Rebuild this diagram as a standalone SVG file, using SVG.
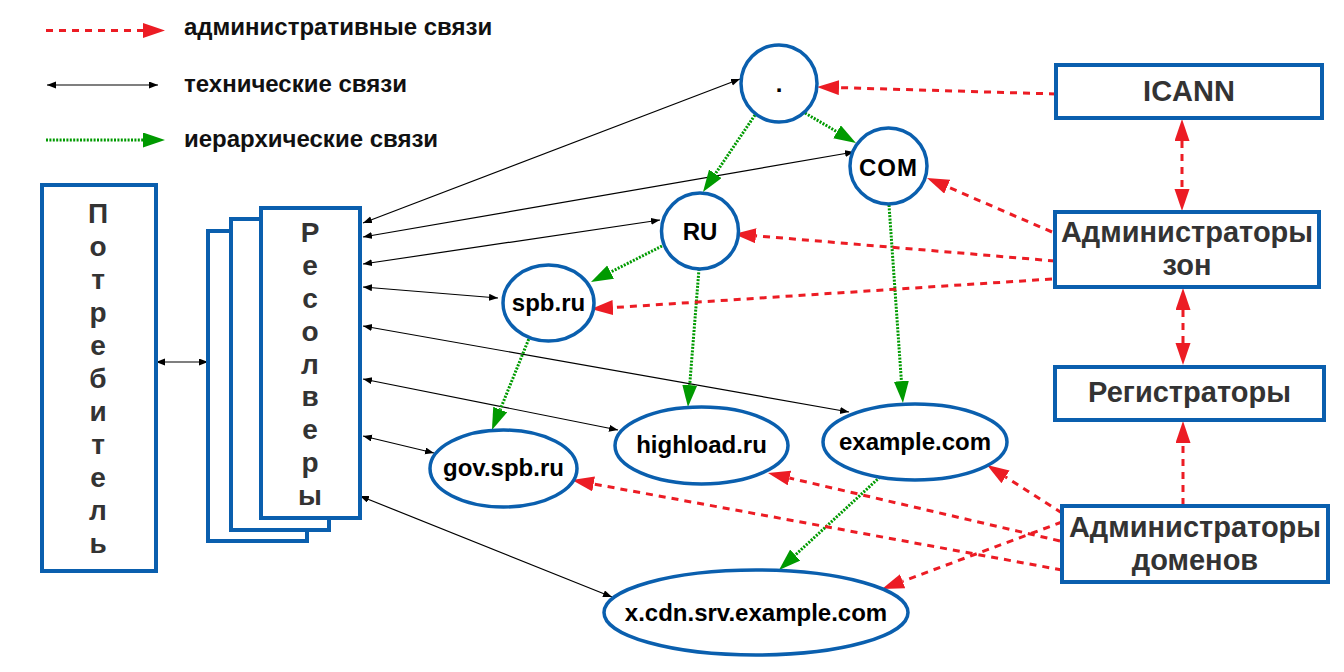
<svg xmlns="http://www.w3.org/2000/svg" width="1344" height="672" viewBox="0 0 1344 672">
<defs>
<style>
.box{fill:#fff;stroke:#0a5fae;stroke-width:4}
.node{fill:#fff;stroke:#0a5fae;stroke-width:3.5}
.bt{font-family:"Liberation Sans",Arial,sans-serif;font-weight:bold;font-size:29px;fill:#333;text-anchor:middle}
.lb{font-family:"Liberation Sans",Arial,sans-serif;font-weight:bold;font-size:28px;fill:#333;text-anchor:middle}
.nt{font-family:"Liberation Sans",Arial,sans-serif;font-weight:bold;font-size:24px;fill:#000;text-anchor:middle}
.lt{font-family:"Liberation Sans",Arial,sans-serif;font-weight:bold;font-size:24px;fill:#111}
.adm{fill:none;stroke:#ec1c24;stroke-width:3;stroke-dasharray:7 6}
.hier{fill:none;stroke:#009a00;stroke-width:3;stroke-dasharray:2 1.4}
.tech{fill:none;stroke:#000;stroke-width:1.2}
</style>
<marker id="ra" markerUnits="userSpaceOnUse" markerWidth="22" markerHeight="16" refX="0" refY="7.5" orient="auto-start-reverse"><path d="M0,0 L22,7.5 L0,15 z" fill="#ec1c24"/></marker>
<marker id="ga" markerUnits="userSpaceOnUse" markerWidth="22" markerHeight="16" refX="0" refY="7.5" orient="auto-start-reverse"><path d="M0,0 L22,7.5 L0,15 z" fill="#009a00"/></marker>
<marker id="ba" markerUnits="userSpaceOnUse" markerWidth="10" markerHeight="8" refX="9" refY="3.5" orient="auto-start-reverse"><path d="M0,0 L9,3.5 L0,7 z" fill="#000"/></marker>
</defs>
<rect width="1344" height="672" fill="#fff"/>

<g id="legend">
<line class="adm" x1="46" y1="30.5" x2="143" y2="30.5" marker-end="url(#ra)"/>
<text class="lt" x="184" y="35">административные связи</text>
<line class="tech" x1="47" y1="85" x2="158" y2="85" marker-start="url(#ba)" marker-end="url(#ba)"/>
<text class="lt" x="184" y="92">технические связи</text>
<line class="hier" x1="46" y1="140" x2="143" y2="140" marker-end="url(#ga)"/>
<text class="lt" x="184" y="147">иерархические связи</text>
</g>

<g id="connectors">
<line class="tech" x1="156" y1="362" x2="208" y2="362" marker-start="url(#ba)" marker-end="url(#ba)"/>
<line class="tech" x1="363" y1="223" x2="740" y2="79" marker-start="url(#ba)" marker-end="url(#ba)"/>
<line class="tech" x1="363" y1="237" x2="854" y2="152" marker-start="url(#ba)" marker-end="url(#ba)"/>
<line class="tech" x1="363" y1="264" x2="660" y2="220" marker-start="url(#ba)" marker-end="url(#ba)"/>
<line class="tech" x1="363" y1="287" x2="498" y2="298" marker-start="url(#ba)" marker-end="url(#ba)"/>
<line class="tech" x1="363" y1="326" x2="849" y2="412" marker-start="url(#ba)" marker-end="url(#ba)"/>
<line class="tech" x1="363" y1="379" x2="618" y2="430" marker-start="url(#ba)" marker-end="url(#ba)"/>
<line class="tech" x1="363" y1="436" x2="434" y2="453" marker-start="url(#ba)" marker-end="url(#ba)"/>
<line class="tech" x1="360" y1="496" x2="612" y2="597" marker-start="url(#ba)" marker-end="url(#ba)"/>

<line class="hier" x1="755" y1="115" x2="715.3" y2="173.8" marker-end="url(#ga)"/>
<line class="hier" x1="805" y1="113" x2="837" y2="131.8" marker-end="url(#ga)"/>
<line class="hier" x1="662" y1="246" x2="610.6" y2="272.1" marker-end="url(#ga)"/>
<line class="hier" x1="699" y1="269" x2="689.7" y2="385.1" marker-end="url(#ga)"/>
<line class="hier" x1="889" y1="205" x2="901.4" y2="381.1" marker-end="url(#ga)"/>
<line class="hier" x1="530" y1="336" x2="500.2" y2="409.6" marker-end="url(#ga)"/>
<line class="hier" x1="880" y1="477" x2="795.2" y2="555.1" marker-end="url(#ga)"/>

<line class="adm" x1="1056" y1="94" x2="839" y2="87.6" marker-end="url(#ra)"/>
<line class="adm" x1="1052" y1="232" x2="947.2" y2="186.7" marker-end="url(#ra)"/>
<line class="adm" x1="1055" y1="261" x2="755.9" y2="235.8" marker-end="url(#ra)"/>
<line class="adm" x1="1052" y1="279" x2="613" y2="307.6" marker-end="url(#ra)"/>
<line class="adm" x1="1062" y1="513" x2="1005.5" y2="476.9" marker-end="url(#ra)"/>
<line class="adm" x1="1060" y1="541" x2="789.4" y2="478" marker-end="url(#ra)"/>
<line class="adm" x1="1062" y1="570" x2="593.6" y2="484" marker-end="url(#ra)"/>
<line class="adm" x1="1062" y1="522" x2="902.6" y2="581.3" marker-end="url(#ra)"/>
<line class="adm" x1="1182" y1="141" x2="1182" y2="189" marker-start="url(#ra)" marker-end="url(#ra)"/>
<line class="adm" x1="1183" y1="310" x2="1183" y2="343" marker-start="url(#ra)" marker-end="url(#ra)"/>
<line class="adm" x1="1183" y1="505" x2="1183" y2="443" marker-end="url(#ra)"/>
</g>

<g id="consumer">
<rect class="box" x="42" y="185" width="114" height="386"/>
<text class="lb" x="98" y="223">П</text>
<text class="lb" x="98" y="256">о</text>
<text class="lb" x="98" y="289">т</text>
<text class="lb" x="98" y="322">р</text>
<text class="lb" x="98" y="355">е</text>
<text class="lb" x="98" y="388">б</text>
<text class="lb" x="98" y="421">и</text>
<text class="lb" x="98" y="454">т</text>
<text class="lb" x="98" y="487">е</text>
<text class="lb" x="98" y="520">л</text>
<text class="lb" x="98" y="553">ь</text>
</g>

<g id="resolvers">
<rect class="box" x="208" y="231" width="99" height="310"/>
<rect class="box" x="231" y="219" width="98" height="311"/>
<rect class="box" x="261" y="208" width="99" height="310"/>
<text class="lb" x="310" y="242">Р</text>
<text class="lb" x="310" y="275">е</text>
<text class="lb" x="310" y="308">с</text>
<text class="lb" x="310" y="341">о</text>
<text class="lb" x="310" y="374">л</text>
<text class="lb" x="310" y="406">в</text>
<text class="lb" x="310" y="439">е</text>
<text class="lb" x="310" y="472">р</text>
<text class="lb" x="310" y="505">ы</text>
</g>

<g id="root"><ellipse class="node" cx="779" cy="83.5" rx="38" ry="38.5"/><text class="nt" x="779" y="92">.</text></g>
<g id="com"><ellipse class="node" cx="888.5" cy="166" rx="38.5" ry="38"/><text class="nt" x="888.5" y="176" font-size="25" letter-spacing="1">COM</text></g>
<g id="ru"><ellipse class="node" cx="700" cy="231" rx="38.5" ry="38"/><text class="nt" x="700" y="240">RU</text></g>
<g id="spbru"><ellipse class="node" cx="548.5" cy="303" rx="45.5" ry="38"/><text class="nt" x="548.5" y="311">spb.ru</text></g>
<g id="govspbru"><ellipse class="node" cx="503.5" cy="468.5" rx="73.5" ry="38.5"/><text class="nt" x="503.5" y="476">gov.spb.ru</text></g>
<g id="highloadru"><ellipse class="node" cx="701.5" cy="445.5" rx="86.5" ry="38.5"/><text class="nt" x="701.5" y="453">highload.ru</text></g>
<g id="examplecom"><ellipse class="node" cx="915" cy="442" rx="92" ry="38"/><text class="nt" x="915" y="450">example.com</text></g>
<g id="xcdn"><ellipse class="node" cx="756" cy="612.5" rx="152" ry="42.5"/><text class="nt" x="756" y="621">x.cdn.srv.example.com</text></g>

<g id="icann"><rect class="box" x="1056" y="65" width="266" height="53"/><text class="bt" x="1189" y="101">ICANN</text></g>
<g id="zoneadmins"><rect class="box" x="1055" y="212" width="264" height="75"/><text class="bt" x="1187" y="242">Администраторы</text><text class="bt" x="1187" y="275">зон</text></g>
<g id="registrars"><rect class="box" x="1055" y="367" width="269" height="53"/><text class="bt" x="1189.5" y="402">Регистраторы</text></g>
<g id="domainadmins"><rect class="box" x="1062" y="506" width="266" height="76"/><text class="bt" x="1195" y="537">Администраторы</text><text class="bt" x="1195" y="570">доменов</text></g>
</svg>
